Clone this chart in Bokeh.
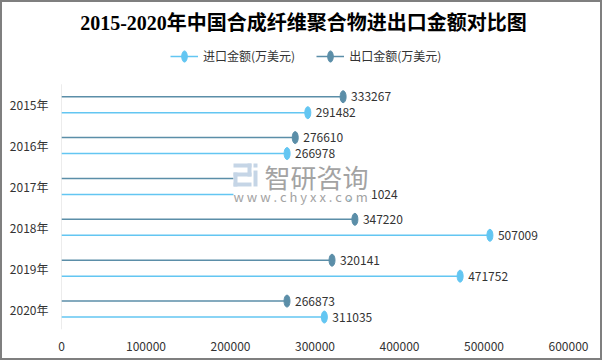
from bokeh.plotting import figure
from bokeh.models import (ColumnDataSource, FactorRange, Range1d, LabelSet, Label,
                          Legend, LegendItem, NumeralTickFormatter, FixedTicker)
from bokeh.transform import dodge
from bokeh.core.properties import value
from bokeh.embed import file_html
from bokeh.resources import INLINE

# ---- data ----
years = ['2015年', '2016年', '2017年', '2018年', '2019年', '2020年']
import_vals = [291482, 266978, 341024, 507009, 471752, 311035]
export_vals = [333267, 276610, 290000, 347220, 320141, 266873]
x_ticks = [0, 100000, 200000, 300000, 400000, 500000, 600000]
title_text = "2015-2020年中国合成纤维聚合物进出口金额对比图"
import_name = "进口金额(万美元)"
export_name = "出口金额(万美元)"

IMP = "#63c6f2"
EXP = "#5b8ea8"
FONT = "Noto Sans CJK SC"

src = ColumnDataSource(dict(
    year=years,
    imp=import_vals,
    exp=export_vals,
    imp_txt=[str(v) for v in import_vals],
    exp_txt=[str(v) for v in export_vals],
    zero=[0] * len(years),
))

# two blank factors on top leave room for title and legend inside the frame
factors = years[::-1] + [" ", "  "]

p = figure(y_range=FactorRange(factors=factors), x_range=Range1d(0, 600000),
           width=602, height=360, output_backend="svg", toolbar_location=None,
           min_border_left=59, min_border_right=36, min_border_top=0, min_border_bottom=33,
           title=None)
p.styles = {"border": "2px solid #7f7f7f"}
p.outline_line_color = None
p.xgrid.grid_line_color = None
p.ygrid.grid_line_color = None

# y axis line spanning only the category rows
axis_src = ColumnDataSource(dict(x=[0], top=[years[0]], bottom=[years[-1]]))
p.segment(x0='x', x1='x', y0=dodge('bottom', -0.5, range=p.y_range),
          y1=dodge('top', 0.5, range=p.y_range), source=axis_src,
          line_color='#d9d9d9', line_width=1)

off = 0.195
y_exp = dodge('year', off, range=p.y_range)
y_imp = dodge('year', -off, range=p.y_range)

seg_exp = p.segment(x0='zero', y0=y_exp, x1='exp', y1=y_exp, source=src,
                    line_color=EXP, line_width=1.5)
ell_exp = p.ellipse(x='exp', y=y_exp, width=6, height=12, width_units='screen',
                    height_units='screen', source=src, fill_color=EXP, line_color=EXP)
seg_imp = p.segment(x0='zero', y0=y_imp, x1='imp', y1=y_imp, source=src,
                    line_color=IMP, line_width=1.5)
ell_imp = p.ellipse(x='imp', y=y_imp, width=6, height=12, width_units='screen',
                    height_units='screen', source=src, fill_color=IMP, line_color=IMP)

for col, yy in (('exp', y_exp), ('imp', y_imp)):
    p.add_layout(LabelSet(x=col, y=yy, text=col + '_txt', source=src, x_offset=8,
                          text_baseline='middle', text_font_size='12px',
                          text_font=value(FONT), text_color='#333333'))

# watermark (white patch, logo, text)
p.quad(left=[203500], right=[366000], top=[4.09], bottom=[3.18],
       fill_color='white', line_color=None, level='overlay')
wm_l = [203545, 220112, 203545, 203545, 203545, 227213, 227213]
wm_r = [224846, 224846, 224846, 208279, 224846, 231946, 231946]
wm_t = [4.061, 4.061, 3.841, 3.841, 3.596, 4.061, 3.890]
wm_b = [3.963, 3.743, 3.743, 3.499, 3.499, 3.963, 3.499]
p.quad(left=wm_l, right=wm_r, top=wm_t, bottom=wm_b, fill_color='#c5d5e6',
       line_color=None, level='overlay')
p.add_layout(Label(x=240230, y=3.74, text="智研咨询", text_font_size='26px',
                   text_font=FONT, text_color='#a3a3a3', text_baseline='middle',
                   level='overlay'))
p.add_layout(Label(x=203500, y=3.254, text="w w w . c h y x x . c o m", text_font_size='13px',
                   text_font=FONT, text_color='#a3a3a3', text_baseline='middle',
                   level='overlay'))

# title
p.add_layout(Label(x=286400, y=7.51, text=title_text, text_align='center',
                   text_baseline='middle', text_font_size='20px',
                   text_font="Liberation Serif, Noto Sans CJK SC", text_font_style='bold',
                   text_color='#000000'))

# axes
p.xaxis.ticker = FixedTicker(ticks=x_ticks)
p.xaxis.formatter = NumeralTickFormatter(format="0")
p.xaxis.axis_line_color = None
p.xaxis.major_tick_line_color = None
p.xaxis.minor_tick_line_color = None
p.xaxis.major_label_standoff = 6
p.xaxis.major_label_text_font_size = '12px'
p.xaxis.major_label_text_font = FONT
p.xaxis.major_label_text_color = '#333333'

p.yaxis.axis_line_color = None
p.yaxis.major_tick_line_color = None
p.yaxis.minor_tick_line_color = None
p.yaxis.major_label_standoff = 7
p.yaxis.major_label_text_font_size = '12px'
p.yaxis.major_label_text_font = FONT
p.yaxis.major_label_text_color = '#333333'

legend = Legend(items=[LegendItem(label=import_name, renderers=[seg_imp, ell_imp]),
                       LegendItem(label=export_name, renderers=[seg_exp, ell_exp])],
                orientation='horizontal', location=(109, 265), margin=0, padding=0,
                spacing=21, label_standoff=5, glyph_width=28, glyph_height=14,
                label_height=14, label_text_font_size='12px', label_text_font=FONT,
                label_text_color='#333333', border_line_color=None,
                background_fill_alpha=0)
p.add_layout(legend, 'center')

open("out.html", "w").write(file_html(p, INLINE))
